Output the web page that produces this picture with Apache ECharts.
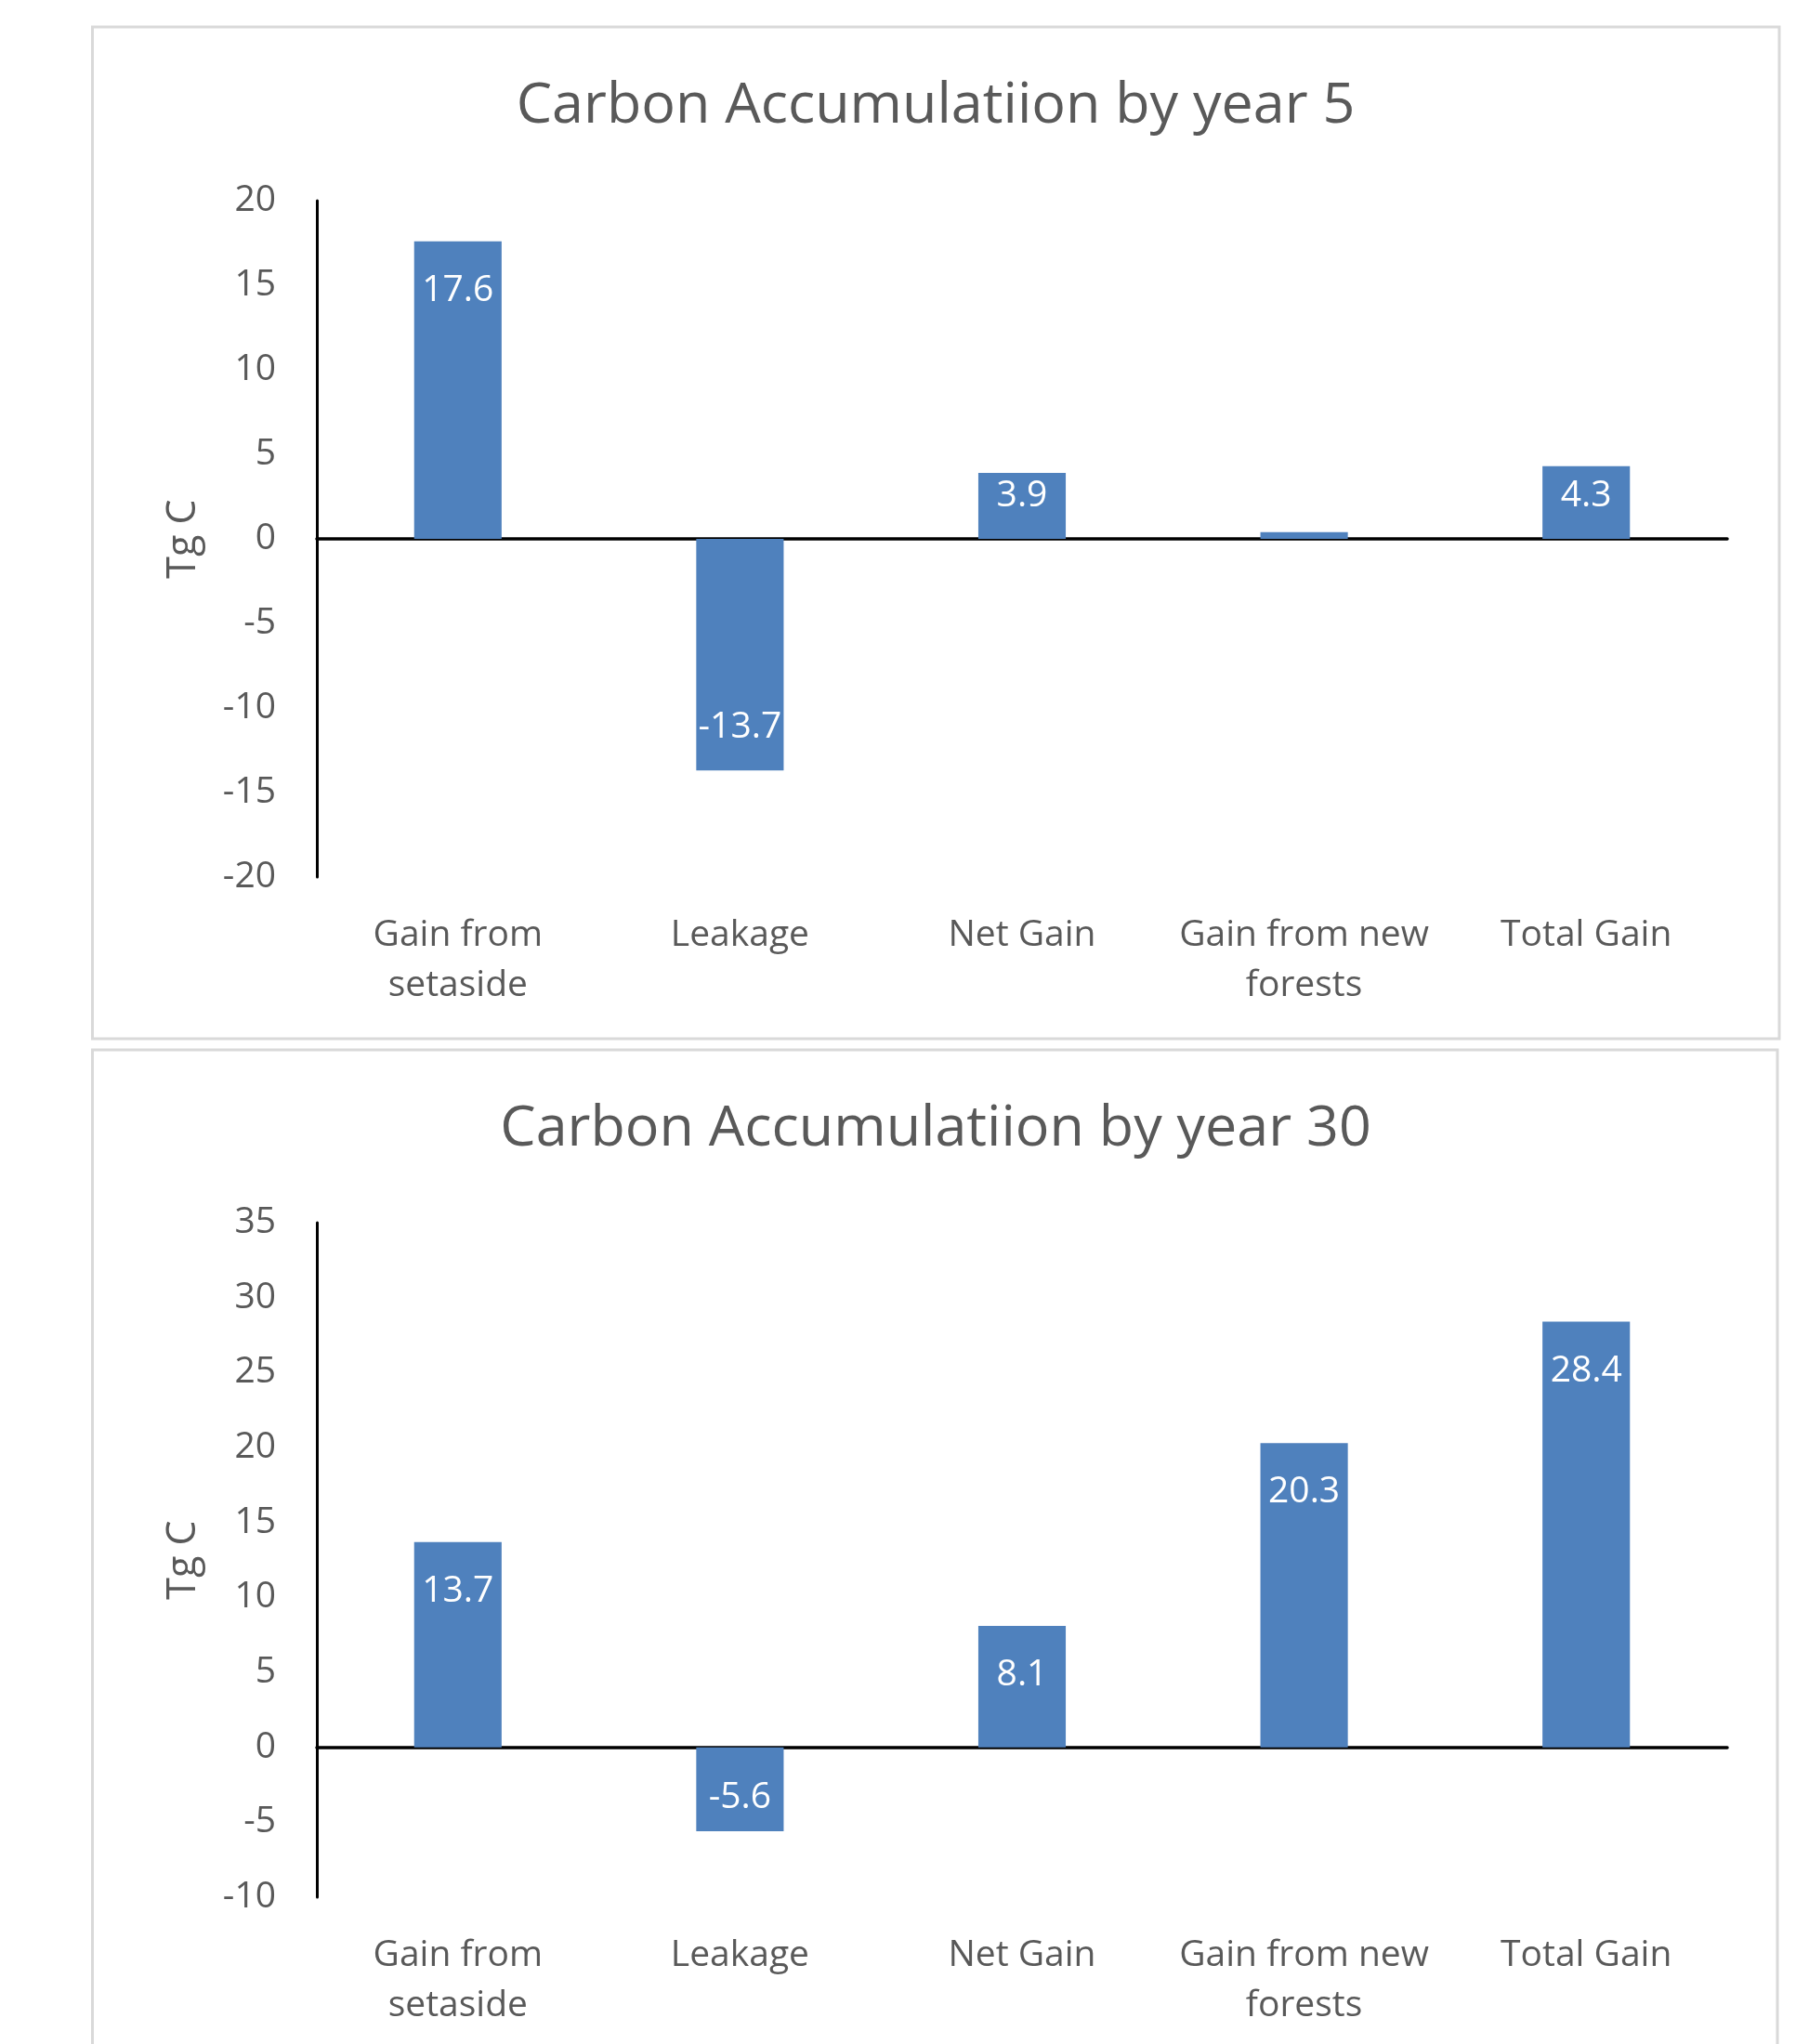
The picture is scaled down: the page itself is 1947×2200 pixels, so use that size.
<!DOCTYPE html>
<html>
<head>
<meta charset="utf-8">
<script src="https://cdn.jsdelivr.net/npm/echarts@6/dist/echarts.min.js"></script>
<style>
  html, body { margin: 0; padding: 0; background: #ffffff; }
  #chart { width: 1947px; height: 2200px; }
</style>
</head>
<body>
<div id="chart"></div>
<script>
// Categories shared by both panels
const categories = ['Gain from setaside', 'Leakage', 'Net Gain', 'Gain from new forests', 'Total Gain'];

// Carbon accumulation (Tg C) by year 5 and by year 30
const year5Values = [17.6, -13.7, 3.9, 0.4, 4.3];
const year30Values = [13.7, -5.6, 8.1, 20.3, 28.4];

// Bars drawn without a value label
const year5Unlabelled = ['Gain from new forests'];
const year30Unlabelled = [];

// Value axis ranges: [min, max, step]
const year5Axis = [-20, 20, 5];
const year30Axis = [-10, 35, 5];

const titles = ['Carbon Accumulatiion by year 5', 'Carbon Accumulatiion by year 30'];
const axisTitle = 'Tg C';

const FONT = '"Open Sans", "Noto Sans", sans-serif';
const TEXT = '#595959';
const BAR = '#4f81bd';
const allValues = [year5Values, year30Values];

const chart = echarts.init(document.getElementById('chart'), null, { renderer: 'canvas' });

// Word-wrap a category name into lines of at most maxChars characters
function wrapWords(text, maxChars) {
  const words = text.split(' ');
  const lines = [];
  let line = '';
  words.forEach(w => {
    const next = line ? line + ' ' + w : w;
    if (next.length > maxChars && line) {
      lines.push(line);
      line = w;
    } else {
      line = next;
    }
  });
  if (line) lines.push(line);
  return lines.join('\n');
}

function barData(values, unlabelled) {
  return values.map((v, i) => ({
    value: v,
    label: { show: unlabelled.indexOf(categories[i]) < 0 }
  }));
}

function yAxisFor(gridIndex, range) {
  return {
    type: 'value', gridIndex: gridIndex,
    min: range[0], max: range[1], interval: range[2],
    name: axisTitle, nameLocation: 'middle', nameGap: 122, nameRotate: 90,
    nameTextStyle: { color: TEXT, fontSize: 43, fontFamily: FONT },
    axisLine: { show: true, lineStyle: { color: '#000000', width: 3 } },
    axisTick: { show: false },
    splitLine: { show: false },
    axisLabel: { color: TEXT, fontSize: 39, fontFamily: FONT, margin: 44 }
  };
}

function labelAxis(gridIndex) {
  return {
    type: 'category', gridIndex: gridIndex, data: categories, position: 'bottom',
    axisLine: { show: false, onZero: false },
    axisTick: { show: false },
    axisLabel: {
      color: TEXT, fontSize: 39, fontFamily: FONT, margin: 36,
      lineHeight: 54, interval: 0, align: 'center',
      formatter: v => wrapWords(v, 14)
    }
  };
}

function zeroAxis(gridIndex) {
  return {
    type: 'category', gridIndex: gridIndex, data: categories, position: 'bottom',
    axisLine: { show: true, onZero: true, lineStyle: { color: '#000000', width: 3.5 } },
    axisTick: { show: false },
    axisLabel: { show: false }
  };
}

function barSeries(idx, values, unlabelled) {
  return {
    type: 'bar', xAxisIndex: idx * 2, yAxisIndex: idx,
    data: barData(values, unlabelled),
    barWidth: '31%',
    itemStyle: { color: BAR },
    label: { show: true, position: 'inside', color: '#ffffff', fontSize: 39, fontFamily: FONT },
    // value labels sit just inside the bar end, kept clear of the zero line on short bars
    labelLayout: function (p) {
      const v = allValues[idx][p.dataIndex];
      const r = p.rect;
      let cy;
      if (v >= 0) {
        cy = Math.min(r.y + 53, r.y + r.height - 46);
      } else {
        cy = Math.max(r.y + r.height - 46, r.y + 54);
      }
      return { x: r.x + r.width / 2, y: cy, align: 'center', verticalAlign: 'middle' };
    }
  };
}

const option = {
  backgroundColor: '#ffffff',
  animation: false,
  graphic: [
    { type: 'rect', z: -10, shape: { x: 99.5, y: 29, width: 1815.5, height: 1089 },
      style: { fill: 'none', stroke: '#d9d9d9', lineWidth: 3 } },
    { type: 'rect', z: -10, shape: { x: 99.5, y: 1130, width: 1813.5, height: 1200 },
      style: { fill: 'none', stroke: '#d9d9d9', lineWidth: 3 } },
    { type: 'text', x: 1007, y: 115,
      style: { text: titles[0], align: 'center', verticalAlign: 'middle', fill: TEXT,
               fontSize: 61, fontFamily: FONT } },
    { type: 'text', x: 1007, y: 1216,
      style: { text: titles[1], align: 'center', verticalAlign: 'middle', fill: TEXT,
               fontSize: 61, fontFamily: FONT } }
  ],
  grid: [
    { left: 341, top: 216, width: 1518, height: 728, outerBoundsMode: 'none' },
    { left: 341, top: 1316, width: 1518, height: 726, outerBoundsMode: 'none' }
  ],
  xAxis: [labelAxis(0), zeroAxis(0), labelAxis(1), zeroAxis(1)],
  yAxis: [yAxisFor(0, year5Axis), yAxisFor(1, year30Axis)],
  series: [
    barSeries(0, year5Values, year5Unlabelled),
    barSeries(1, year30Values, year30Unlabelled)
  ]
};

chart.setOption(option);
</script>
</body>
</html>
